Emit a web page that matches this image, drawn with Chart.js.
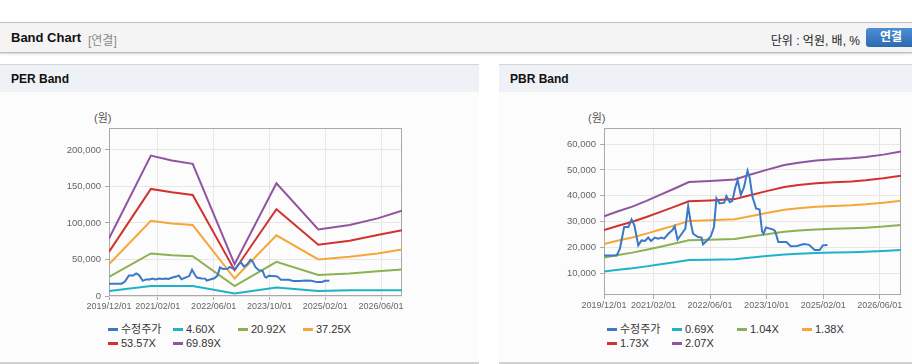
<!DOCTYPE html>
<html><head><meta charset="utf-8">
<script src="https://cdn.jsdelivr.net/npm/chart.js@4.4.1/dist/chart.umd.min.js"></script>
<style>
html,body{margin:0;padding:0;background:#fff;}
body{width:912px;height:364px;position:relative;overflow:hidden;font-family:"Liberation Sans",Arial,"Noto Sans CJK KR",sans-serif;}
#hdr{position:absolute;left:0;top:22px;width:912px;height:29px;background:#f4f4f4;border-top:1px solid #c2c2c2;border-bottom:1px solid #bdbdbd;box-shadow:0 1px 2px rgba(0,0,0,0.18);}
#hdr .t{position:absolute;left:11px;top:7px;font-size:13px;font-weight:bold;color:#111;}
#hdr .s{position:absolute;left:88px;top:8px;font-size:12px;color:#8a8a8a;}
#hdr .u{position:absolute;right:52px;top:8px;font-size:12px;color:#222;}
#hdr .b{position:absolute;left:866px;top:5px;width:56px;height:19px;border-radius:3px;background:linear-gradient(#4d8fd5,#2d69ae);color:#fff;font-size:12px;font-weight:bold;line-height:19px;text-indent:14px;}
.panel{position:absolute;top:64px;height:297px;background:#fcfcfc;border-top:1px solid #d4d4d4;border-bottom:2px solid #d0d0d0;}
.ph{height:27px;background:#eef1f6;position:relative;}
.ph span{position:absolute;left:11px;top:7px;font-size:12px;font-weight:bold;color:#111;}
canvas{position:absolute;}
.unit{position:absolute;top:109px;font-size:11px;color:#555;}
.legend{position:absolute;top:323px;display:grid;grid-template-columns:repeat(4,65px);grid-auto-rows:13.5px;font-size:11px;color:#333;line-height:13px;}
.li{display:flex;align-items:center;white-space:nowrap;}
.mk{display:inline-block;width:10px;height:3px;margin-right:3px;}
</style>
</head><body>
<div id="hdr"><span class="t">Band Chart</span><span class="s">[연결]</span><span class="u">단위 : 억원, 배, %</span><span class="b">연결</span></div>
<div class="panel" style="left:0;width:479px;"><div class="ph"><span>PER Band</span></div></div>
<div class="panel" style="left:499px;width:420px;"><div class="ph"><span>PBR Band</span></div></div>
<div class="unit" style="left:94px;">(원)</div>
<div class="unit" style="left:588px;">(원)</div>
<canvas id="per" width="479" height="225" style="left:0;top:93px;"></canvas>
<canvas id="pbr" width="413" height="225" style="left:499px;top:93px;"></canvas>
<div class="legend" id="perLegend" style="left:108px;"></div>
<div class="legend" id="pbrLegend" style="left:607px;"></div>
<script>
// ---------- data ----------
const xTickLabels = ['2019/12/01','2021/02/01','2022/06/01','2023/10/01','2025/02/01','2026/06/01'];
const xStart = '2019/12/01';
const xEnd = '2026/12/01';

const priceLabel = '수정주가';
const priceDates = ['2019/12/01','2020/03/19','2020/04/16','2020/05/22','2020/06/28','2020/07/25','2020/08/19','2020/09/22','2020/10/19','2020/11/19',
 '2020/12/16','2021/01/10','2021/02/13','2021/03/10','2021/04/10','2021/05/01','2021/06/07','2021/07/10','2021/08/01','2021/08/25',
 '2021/09/28','2021/11/01','2021/11/25','2021/12/19','2022/01/07','2022/02/19','2022/03/19','2022/04/01','2022/05/01','2022/06/07',
 '2022/07/04','2022/07/25','2022/08/22','2022/10/01','2022/10/19','2022/11/19','2022/12/10','2023/01/04','2023/01/25','2023/02/22',
 '2023/03/19','2023/04/19','2023/05/07','2023/06/01','2023/07/01','2023/08/01','2023/08/22','2023/09/04','2023/09/25','2023/11/28',
 '2023/12/13','2024/01/10','2024/03/19','2024/04/25','2024/06/19','2024/08/16','2024/10/01','2024/11/19','2025/01/01','2025/01/28','2025/03/07'];
const priceValues = [16900,16900,19500,27900,27900,30800,28600,20800,22700,22500,
 23800,22500,23800,23400,23800,23400,25300,26600,28200,23000,
 25100,27300,36000,29000,25300,24000,23800,21200,22500,24300,
 27900,39000,37000,37300,39900,37500,38000,43000,46100,40300,
 43300,49700,47000,39500,35100,34700,26200,25300,27700,26900,
 26300,22100,22100,20500,20600,21300,21000,19000,19000,20800,20900];

const perLabels = ['4.60X','20.92X','37.25X','53.57X','69.89X'];
const perDates = ['2019/12/01','2020/12/01','2021/06/01','2021/12/01','2022/12/01','2023/12/01','2024/12/01','2025/09/01','2026/05/01','2026/12/01'];
const per460  = [6900, 13700, 13700, 13700, 3300, 11500, 6900, 7800, 7800, 7800];
const per2092 = [26100, 58200, 55900, 54500, 13700, 46700, 28800, 30800, 33900, 36300];
const per3725 = [43500, 103000, 99400, 97100, 23900, 83000, 50000, 53600, 58200, 63700];
const per5357 = [60400, 146600, 142000, 138300, 35300, 118700, 70100, 75500, 83400, 90200];
const per6989 = [78800, 192300, 185400, 180900, 43500, 154400, 91200, 97100, 106300, 116800];
const perYTicks = [0, 50000, 100000, 150000, 200000];
const perYMin = 0, perYMax = 230000;

const pbrLabels = ['0.69X','1.04X','1.38X','1.73X','2.07X'];
const pbrDates = ['2019/12/01','2020/04/01','2020/08/01','2020/12/01','2021/04/01','2021/08/01','2021/12/01','2022/06/01','2023/01/01','2023/05/01',
 '2023/10/01','2024/03/01','2024/07/01','2024/12/01','2025/05/01','2025/10/01','2026/02/01','2026/07/01','2026/12/01'];
const pbr069 = [10670,11330,11930,12670,13470,14270,15100,15230,15430,16000,16670,17300,17600,17870,18030,18170,18330,18630,19030];
const pbr104 = [16080,17080,17990,19090,20300,21500,22760,22960,23260,24120,25120,26080,26530,26930,27180,27380,27630,28080,28690];
const pbr138 = [21330,22670,23870,25330,26930,28530,30200,30470,30870,32000,33330,34600,35200,35730,36070,36330,36670,37270,38070];
const pbr173 = [26740,28410,29920,31760,33760,35770,37860,38190,38690,40110,41790,43370,44120,44790,45210,45550,45960,46720,47720];
const pbr207 = [32000,34000,35800,38000,40400,42800,45300,45700,46300,48000,50000,51900,52800,53600,54100,54500,55000,55900,57100];
const pbrYTicks = [10000, 20000, 30000, 40000, 50000, 60000];
const pbrYMin = 1600, pbrYMax = 66200;

// ---------- style ----------
const palette = ['#3b78c6','#1fb3c9','#8db052','#f5a73a','#d1322e','#8f55a0'];

function toM(s){ const p = s.split('/').map(Number); return (p[0]-2019)*12 + (p[1]-12) + (p[2]-1)/30; }
function pts(dates, vals){ return dates.map((d,i)=>({x:toM(d), y:vals[i]})); }

const boxBorder = {
  id:'boxBorder',
  beforeDatasetsDraw(chart){
    const a = chart.chartArea, c = chart.ctx;
    c.save(); c.strokeStyle = '#a9a9a9'; c.lineWidth = 1;
    const l = Math.floor(a.left)+0.5, t = Math.floor(a.top)+0.5, r = Math.floor(a.right)-0.5, b = Math.floor(a.bottom)-0.5;
    c.strokeRect(l, t, r-l, b-t);
    c.restore();
  }
};

function makeChart(id, bandDates, bands, labels, yMin, yMax, yTicks, yW, rightPad, xH){
  const datasets = [{label:priceLabel, data:pts(priceDates, priceValues), borderColor:palette[0]}];
  bands.forEach((b,i)=>datasets.push({label:labels[i], data:pts(bandDates,b), borderColor:palette[i+1]}));
  datasets.forEach(d=>{ d.borderWidth=2; d.pointRadius=0; d.tension=0; d.fill=false; });
  const fontFam = '"Liberation Sans", Arial, sans-serif';
  new Chart(document.getElementById(id), {
    type:'line',
    data:{datasets},
    options:{
      responsive:false, animation:false, devicePixelRatio:1,
      layout:{padding:{top:35, right:rightPad, left:0, bottom:0}},
      plugins:{legend:{display:false}, tooltip:{enabled:false}},
      scales:{
        x:{type:'linear', min:toM(xStart), max:toM(xEnd),
          afterBuildTicks(s){ s.ticks = xTickLabels.map(l=>({value:toM(l)})); },
          afterFit(s){ s.height = xH; },
          ticks:{autoSkip:false, maxRotation:0, minRotation:0, padding:1, color:'#666', font:{size:9, family:fontFam},
            callback:(v,i)=>xTickLabels[i]},
          grid:{color:'#e7e7e7', tickColor:'#aaa', tickLength:4, lineWidth:1},
          border:{display:false}},
        y:{type:'linear', min:yMin, max:yMax,
          afterBuildTicks(s){ s.ticks = yTicks.map(v=>({value:v})); },
          afterFit(s){ s.width = yW; },
          ticks:{autoSkip:false, padding:4, color:'#666', font:{size:9.5, family:fontFam},
            callback:(v,i)=>yTicks[i].toLocaleString('en-US')},
          grid:{color:'#e7e7e7', tickColor:'#aaa', tickLength:4, lineWidth:1},
          border:{display:false}}
      }
    },
    plugins:[boxBorder]
  });
}

function buildLegend(elId, labels){
  const el = document.getElementById(elId);
  [priceLabel].concat(labels).forEach((l,i)=>{
    const d = document.createElement('div'); d.className='li';
    const m = document.createElement('span'); m.className='mk'; m.style.background = palette[i];
    d.appendChild(m); d.appendChild(document.createTextNode(l));
    el.appendChild(d);
  });
}

makeChart('per', perDates, [per460,per2092,per3725,per5357,per6989], perLabels, perYMin, perYMax, perYTicks, 109, 77, 22);
makeChart('pbr', pbrDates, [pbr069,pbr104,pbr138,pbr173,pbr207], pbrLabels, pbrYMin, pbrYMax, pbrYTicks, 105, 11, 23);
buildLegend('perLegend', perLabels);
buildLegend('pbrLegend', pbrLabels);
</script>
</body></html>
